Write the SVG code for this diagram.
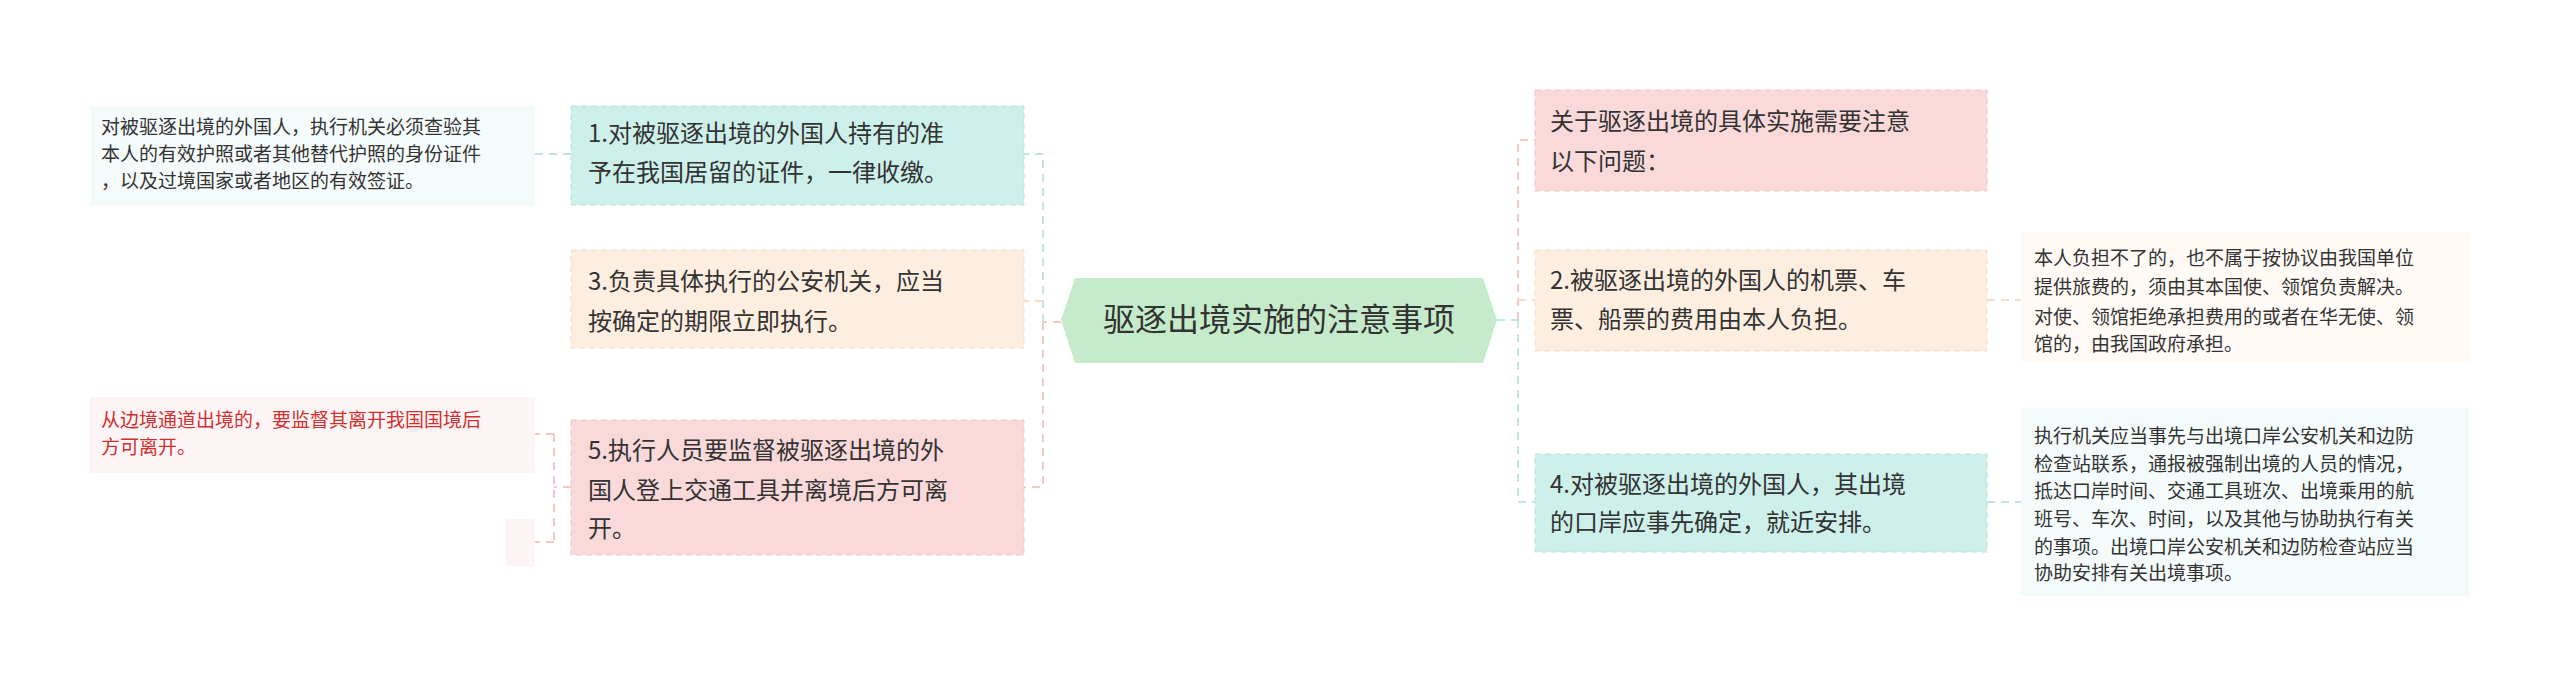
<svg xmlns="http://www.w3.org/2000/svg" width="2560" height="685" viewBox="0 0 2560 685">
<style>
text{font-family:"Noto Sans CJK SC","Noto Sans",sans-serif;fill:#333}
.n{font-size:24px}
.l{font-size:19px}
.c{stroke-width:2;stroke-dasharray:8 6;fill:none}
</style>
<rect width="2560" height="685" fill="#fff"/>
<g id="connectors">
<path class="c" stroke="#f5c8c8" d="M1061,322 H1043"/>
<path class="c" stroke="#bfe6e0" d="M1043,322 V154 H1024"/>
<path class="c" stroke="#fbdcc4" d="M1043,301 H1024"/>
<path class="c" stroke="#f5c8c8" d="M1043,322 V487 H1024"/>
<path class="c" stroke="#bfe6e0" d="M571,154 H535"/>
<path class="c" stroke="#f5c8c8" d="M571,487 H554 M554,434 V542 M554,434 H535 M554,542 H535"/>
<path class="c" stroke="#bfe6e0" d="M1497,320 H1518"/>
<path class="c" stroke="#f5c8c8" d="M1518,320 V140 H1535"/>
<path class="c" stroke="#fbdcc4" d="M1518,300 H1535"/>
<path class="c" stroke="#bfe6e0" d="M1518,320 V502 H1535"/>
<path class="c" stroke="#fbdcc4" d="M1987,300 H2021"/>
<path class="c" stroke="#bfe6e0" d="M1987,502 H2021"/>
</g>
<g id="center">
<polygon points="1075,278 1483,278 1497,320 1483,363 1075,363 1061,320" fill="#c5ebcb"/>
<text x="1279" y="331" font-size="32" text-anchor="middle">驱逐出境实施的注意事项</text>
</g>
<g id="n1"><rect x="571" y="106" width="453" height="99" fill="#cdf0ea" stroke="#b8e2da" stroke-dasharray="6 4"/>
<text class="n" x="588" y="142">1.对被驱逐出境的外国人持有的准</text><text class="n" x="588" y="181">予在我国居留的证件，一律收缴。</text></g>
<g id="n3"><rect x="571" y="250" width="453" height="98" fill="#fdeee0" stroke="#f7dcc4" stroke-dasharray="6 4"/>
<text class="n" x="588" y="290">3.负责具体执行的公安机关，应当</text><text class="n" x="588" y="330">按确定的期限立即执行。</text></g>
<g id="n5"><rect x="571" y="420" width="453" height="135" fill="#f9d9d9" stroke="#f0c4c4" stroke-dasharray="6 4"/>
<text class="n" x="588" y="459">5.执行人员要监督被驱逐出境的外</text><text class="n" x="588" y="499">国人登上交通工具并离境后方可离</text><text class="n" x="588" y="537">开。</text></g>
<g id="leaf1"><rect x="90" y="106" width="445" height="100" fill="#f5fbfb"/>
<text class="l" x="101" y="134">对被驱逐出境的外国人，执行机关必须查验其</text><text class="l" x="101" y="161">本人的有效护照或者其他替代护照的身份证件</text><text class="l" x="101" y="188">，以及过境国家或者地区的有效签证。</text></g>
<g id="leaf5"><rect x="90" y="397" width="445" height="76" fill="#fdf5f5"/>
<text class="l" x="101" y="427" style="fill:#d03030">从边境通道出境的，要监督其离开我国国境后</text><text class="l" x="101" y="454" style="fill:#d03030">方可离开。</text></g>
<g id="leaf5b"><rect x="506" y="519" width="29" height="47" fill="#fdf5f5"/></g>
<g id="r0"><rect x="1535" y="90" width="452" height="101" fill="#f9d9d9" stroke="#f0c4c4" stroke-dasharray="6 4"/>
<text class="n" x="1550" y="130">关于驱逐出境的具体实施需要注意</text><text class="n" x="1550" y="170">以下问题：</text></g>
<g id="r2"><rect x="1535" y="250" width="452" height="101" fill="#fdeee0" stroke="#f7dcc4" stroke-dasharray="6 4"/>
<text class="n" x="1550" y="289">2.被驱逐出境的外国人的机票、车</text><text class="n" x="1550" y="328">票、船票的费用由本人负担。</text></g>
<g id="r4"><rect x="1535" y="454" width="452" height="98" fill="#cdf0ea" stroke="#b8e2da" stroke-dasharray="6 4"/>
<text class="n" x="1550" y="493">4.对被驱逐出境的外国人，其出境</text><text class="n" x="1550" y="531">的口岸应事先确定，就近安排。</text></g>
<g id="rl2"><rect x="2021" y="232" width="449" height="130" fill="#fffaf5"/>
<text class="l" x="2034" y="265">本人负担不了的，也不属于按协议由我国单位</text><text class="l" x="2034" y="294">提供旅费的，须由其本国使、领馆负责解决。</text><text class="l" x="2034" y="324">对使、领馆拒绝承担费用的或者在华无使、领</text><text class="l" x="2034" y="351">馆的，由我国政府承担。</text></g>
<g id="rl4"><rect x="2021" y="408" width="449" height="188" fill="#f5fbfb"/>
<text class="l" x="2034" y="443">执行机关应当事先与出境口岸公安机关和边防</text><text class="l" x="2034" y="471">检查站联系，通报被强制出境的人员的情况，</text><text class="l" x="2034" y="498">抵达口岸时间、交通工具班次、出境乘用的航</text><text class="l" x="2034" y="526">班号、车次、时间，以及其他与协助执行有关</text><text class="l" x="2034" y="554">的事项。出境口岸公安机关和边防检查站应当</text><text class="l" x="2034" y="580">协助安排有关出境事项。</text></g>
</svg>
